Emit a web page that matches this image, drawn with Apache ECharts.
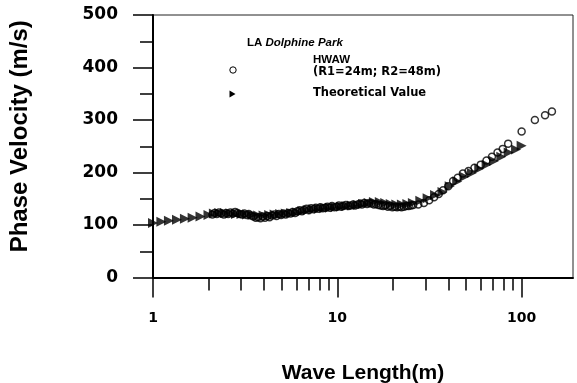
<!DOCTYPE html>
<html><head><meta charset="utf-8">
<script src="https://cdn.jsdelivr.net/npm/echarts@6/dist/echarts.min.js"></script>
<style>html,body{margin:0;padding:0;background:#fff}#c{width:577px;height:383px}</style>
</head><body><div id="c"></div>
<script>
// Theoretical Value (triangles)
const theoX = [1.00,1.11,1.22,1.35,1.49,1.64,1.81,2.00,
  2.14,2.29,2.46,2.63,2.82,3.02,3.24,3.47,3.72,3.98,4.27,4.57,4.90,5.25,5.62,6.03,6.46,6.92,7.41,7.94,8.51,9.12,9.77,10.5,11.2,12.0,12.9,13.8,14.8,15.8,17.0,18.2,19.5,20.9,22.4,24.0,
  25.7,28.2,30.9,33.9,37.2,40.7,44.7,49.0,53.7,58.9,64.6,70.8,77.6,85.1,93.3,100];
const theoY = [104,106,108,110,112,114,116,119,
  122,123,123,122,121,121,120,119,118,118,119,120,121,122,123,124,126,128,130,131,132,133,134,135,136,137,138,140,142,144,144,142,140,139,139,140,142,
  146,151,157,163,174,183,192,199,207,215,222,230,238,244,251,256];
// HWAW (R1=24m; R2=48m) (open circles)
const hwawX = [2.10,2.16,2.22,2.28,2.35,2.42,2.49,2.56,2.63,2.71,2.79,2.87,2.95,3.04,3.13,3.22,3.31,3.41,3.51,3.61,3.72,3.83,3.94,4.05,4.17,4.29,4.42,4.55,4.68,4.82,4.96,5.10,5.25,5.41,5.56,5.73,5.90,6.07,6.25,6.43,6.62,6.81,7.01,7.22,7.43,7.65,7.87,8.10,8.34,8.59,8.84,9.10,9.36,9.64,9.92,10.2,10.5,10.8,11.1,11.5,11.8,12.2,12.5,12.9,13.3,13.6,14.0,14.5,14.9,15.3,15.8,16.2,16.7,17.2,17.7,18.2,18.8,19.3,19.9,20.5,21.1,21.7,22.3,23.0,23.7,24.4,25.1,25.8,
  27.5,29.5,31.5,33.5,35.5,37.5,40.0,42.5,45.0,48.0,51.5,55.5,60.0,64.5,69.0,74.0,79.0,84.5,100,118,134,146];
const hwawY = [120,123,121,124,122,120,123,121,124,122,125,123,121,120,122,119,121,118,116,114,115,113,116,114,117,115,118,120,117,121,119,122,120,123,122,125,123,126,128,126,129,131,128,132,130,133,131,134,132,133,135,133,136,134,135,137,135,136,138,136,137,139,137,139,141,139,142,140,142,141,139,140,138,137,136,137,135,136,134,135,134,135,134,135,136,136,137,138,
  139,142,147,153,159,166,174,184,190,198,203,209,215,223,230,238,245,255,278,300,309,316];
// axis ticks
const xLabelTicks = [1,10,100];
const xMinorTicks = [2,3,4,5,6,7,8,9,20,30,40,50,60,70,80,90];
const yMajorTicks = [0,100,200,300,400,500];
const yMinorTicks = [50,150,250,350,450];

const chart = echarts.init(document.getElementById('c'), null, {renderer:'canvas'});
const numFont = 'DejaVu Sans';
const titleFont = '"Liberation Sans", Arial, sans-serif';
const tickLine = {color:'#000', width:1.5};
chart.setOption({
  animation:false,
  backgroundColor:'#fff',
  grid:{left:153, right:4, top:15, bottom:105.5, containLabel:false, outerBoundsMode:'none',
    show:true, borderColor:'#222', borderWidth:1, backgroundColor:'transparent'},
  xAxis:[{
    type:'log', logBase:10, min:1, max:190, position:'bottom',
    name:'Wave Length(m)', nameLocation:'middle', nameGap:85,
    nameTextStyle:{fontFamily:titleFont, fontWeight:'bold', fontSize:21, color:'#000'},
    axisLine:{show:true, lineStyle:{color:'#000', width:2}},
    axisTick:{show:true, inside:false, length:20, lineStyle:tickLine, customValues:xLabelTicks},
    axisLabel:{show:true, margin:34, fontFamily:numFont, fontWeight:'bold', fontSize:14, color:'#000', customValues:xLabelTicks},
    splitLine:{show:false}, minorTick:{show:false}
  },{
    type:'log', logBase:10, min:1, max:190, position:'bottom', gridIndex:0,
    axisLine:{show:false},
    axisTick:{show:true, inside:false, length:13, lineStyle:tickLine, customValues:xMinorTicks},
    axisLabel:{show:false}, splitLine:{show:false}
  }],
  yAxis:[{
    type:'value', min:0, max:500, interval:100, position:'left',
    name:'Phase Velocity (m/s)', nameLocation:'middle', nameGap:121, nameRotate:90,
    nameTextStyle:{fontFamily:titleFont, fontWeight:'bold', fontSize:24, color:'#000', padding:[0,0,0,20]},
    axisLine:{show:true, lineStyle:{color:'#000', width:2}},
    axisTick:{show:true, inside:false, length:20, lineStyle:tickLine, customValues:yMajorTicks},
    axisLabel:{margin:35, fontFamily:numFont, fontWeight:'bold', fontSize:17, color:'#000', customValues:yMajorTicks},
    splitLine:{show:false}
  },{
    type:'value', min:0, max:500, interval:100, position:'left', gridIndex:0,
    axisLine:{show:false},
    axisTick:{show:true, inside:false, length:13, lineStyle:tickLine, customValues:yMinorTicks},
    axisLabel:{show:false}, splitLine:{show:false}
  }],
  series:[{
    name:'Theoretical Value', type:'scatter', xAxisIndex:0, yAxisIndex:0,
    data:theoX.map((x,i)=>[x, theoY[i]]),
    symbol:'triangle', symbolRotate:-90, symbolSize:[10,10],
    itemStyle:{color:'#000'}
  },{
    name:'HWAW', type:'scatter', xAxisIndex:0, yAxisIndex:0,
    data:hwawX.map((x,i)=>[x, hwawY[i]]),
    symbol:'circle', symbolSize:7,
    itemStyle:{color:'rgba(255,255,255,0)', borderColor:'#000', borderWidth:1.5}
  }],
  graphic:[
    {type:'text', left:247, top:37, style:{text:'{a|LA }{b|Dolphine Park}', rich:{
      a:{fontFamily:titleFont, fontWeight:'bold', fontSize:11.5, fill:'#000'},
      b:{fontFamily:titleFont, fontWeight:'bold', fontStyle:'italic', fontSize:11.5, fill:'#000'}}}},
    {type:'text', left:313, top:54, style:{text:'HWAW', font:'bold 11.5px "Liberation Sans", Arial', fill:'#000'}},
    {type:'text', left:313, top:66, style:{text:'(R1=24m; R2=48m)', font:'bold 11.5px "DejaVu Sans"', fill:'#000'}},
    {type:'text', left:313, top:87, style:{text:'Theoretical Value', font:'bold 11.5px "DejaVu Sans"', fill:'#000'}},
    {type:'circle', shape:{cx:233, cy:70, r:3.2}, style:{fill:'#fff', stroke:'#000', lineWidth:1}},
    {type:'polygon', shape:{points:[[229.5,90.5],[235.5,94],[229.5,97.5]]}, style:{fill:'#000'}}
  ]
});
</script></body></html>
